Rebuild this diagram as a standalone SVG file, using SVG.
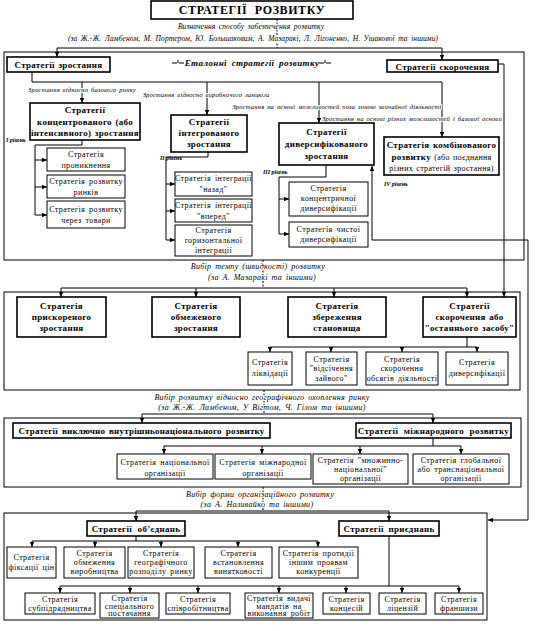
<svg xmlns="http://www.w3.org/2000/svg" width="553" height="631" viewBox="0 0 553 631">
<defs>
<marker id="ar" markerWidth="5" markerHeight="5" refX="5" refY="2.5" orient="auto" markerUnits="userSpaceOnUse"><path d="M0,0.3 L5,2.5 L0,4.7 z" fill="#000"/></marker>
</defs>
<style>
.pn{fill:none;stroke:#000;stroke-width:1}
.bx{fill:#fff;stroke:#000;stroke-width:1}
.bh{fill:#fff;stroke:#000;stroke-width:1.6}
.c{fill:none;stroke:#000;stroke-width:1}
.ca{fill:none;stroke:#000;stroke-width:1;marker-end:url(#ar)}
.d{fill:none;stroke:#000;stroke-width:1;stroke-dasharray:2 1.5}
text{font-family:"Liberation Serif","Times New Roman",serif;fill:#000}
.t{font-size:8px;letter-spacing:0.4px;word-spacing:1.5px;text-anchor:middle}
.h{font-size:9px;font-weight:bold;letter-spacing:0.3px;word-spacing:1px;text-anchor:middle}
.l{font-size:6.5px;font-style:italic;letter-spacing:0.2px;word-spacing:1px;text-anchor:middle;paint-order:stroke;stroke:#fff;stroke-width:2px;stroke-linejoin:round}
.s{font-size:8px;font-style:italic;letter-spacing:0.3px;word-spacing:1.5px;text-anchor:middle;paint-order:stroke;stroke:#fff;stroke-width:2px;stroke-linejoin:round}
.s2{font-size:7.5px;letter-spacing:0.1px}
.e{font-size:9px;font-style:italic;font-weight:bold;letter-spacing:0.4px;word-spacing:2px;text-anchor:middle}
.lv{font-size:6px;font-style:italic;font-weight:bold}
</style>
<rect width="553" height="631" fill="#fff"/>

<g id="panels">
<rect class="pn" x="4" y="52" width="520" height="208"/>
<rect class="pn" x="4" y="292" width="516" height="98"/>
<rect class="pn" x="4" y="418" width="517" height="69"/>
<rect class="pn" x="4" y="513" width="483" height="107"/>
</g>

<g id="connectors">
<path class="d" d="M277,19 V48"/>
<path class="c" d="M57,48 H442"/>
<path class="ca" d="M57,48 V57"/>
<path class="ca" d="M442,48 V60"/>
<path class="c" d="M32,72 V82 H442"/>
<path class="ca" d="M82,82 V103"/>
<path class="ca" d="M207,82 V115"/>
<path class="ca" d="M319,82 V123"/>
<path class="ca" d="M442,82 V137"/>
<path class="ca" d="M498,64 H504 V297"/>
<path class="c" d="M82,140 V145 H35 V215"/>
<path class="ca" d="M35,160 H47"/>
<path class="ca" d="M35,187 H47"/>
<path class="ca" d="M35,215 H47"/>
<path class="c" d="M208,152 V157 H166 V240"/>
<path class="ca" d="M166,184 H175"/>
<path class="ca" d="M166,211 H175"/>
<path class="ca" d="M166,240 H175"/>
<path class="c" d="M326,165 V177 H279 V234"/>
<path class="ca" d="M279,199 H289"/>
<path class="ca" d="M279,234 H289"/>
<path class="ca" d="M372,240 V166"/>
<path class="ca" d="M372,240 H528 V520 H488"/>
<path class="c" d="M172,63 H177 M179,63 H184 M178,63 V60 M319,63 H324 M326,63 H331 M325,63 V60"/>
<path class="d" d="M263,260 V288"/>
<path class="c" d="M61,288 H467"/>
<path class="ca" d="M61,288 V297"/>
<path class="ca" d="M196,288 V297"/>
<path class="ca" d="M334,288 V297"/>
<path class="ca" d="M467,288 V297"/>
<path class="c" d="M467,337 V347 M270,347 H477"/>
<path class="ca" d="M270,347 V352"/>
<path class="ca" d="M331,347 V352"/>
<path class="ca" d="M402,347 V352"/>
<path class="ca" d="M477,347 V352"/>
<path class="d" d="M264,390 V414"/>
<path class="c" d="M142,414 H433"/>
<path class="ca" d="M142,414 V423"/>
<path class="ca" d="M433,414 V423"/>
<path class="c" d="M433,438 V446 M164,446 H461"/>
<path class="ca" d="M164,446 V454"/>
<path class="ca" d="M262,446 V454"/>
<path class="ca" d="M360,446 V454"/>
<path class="ca" d="M461,446 V454"/>
<path class="d" d="M263,487 V511"/>
<path class="c" d="M136,511 H389"/>
<path class="ca" d="M136,511 V521"/>
<path class="ca" d="M389,511 V521"/>
<path class="c" d="M136,536 V541 M32,541 H318"/>
<path class="ca" d="M32,541 V547"/>
<path class="ca" d="M95,541 V547"/>
<path class="ca" d="M161,541 V547"/>
<path class="ca" d="M238,541 V547"/>
<path class="ca" d="M318,541 V547"/>
<path class="c" d="M389,536 V586 M60,586 H459"/>
<path class="ca" d="M60,586 V593"/>
<path class="ca" d="M130,586 V593"/>
<path class="ca" d="M198,586 V593"/>
<path class="ca" d="M279,586 V593"/>
<path class="ca" d="M346,586 V593"/>
<path class="ca" d="M402,586 V593"/>
<path class="ca" d="M459,586 V593"/>
</g>

<g id="labels">
<text class="s s2" x="251" y="29">Визначення способу забезпечення розвитку</text>
<text class="s s2" x="253" y="41">(за Ж.-Ж. Ламбеном, М. Портером, Ю. Большаковим, А. Мазаракі, Л. Лігоненко, Н. Ушакової та іншими)</text>
<text class="e" x="252" y="66">Еталонні стратегії розвитку</text>
<text class="l" x="82" y="92">Зростання відносно базового ринку</text>
<text class="l" x="206" y="97">Зростання відносно виробничого ланцюга</text>
<text class="l" x="337" y="109">Зростання на основі можливостей поза зоною звичайної діяльності</text>
<text class="l" x="412" y="121">Зростання на основі різних можливостей і базової основи</text>
<text class="lv" x="6" y="142">I рівень</text>
<text class="lv" x="160" y="160">II рівень</text>
<text class="lv" x="263" y="174">III рівень</text>
<text class="lv" x="384" y="186">IV рівень</text>
<text class="s" x="258" y="269">Вибір темпу (швидкості) розвитку</text>
<text class="s" x="262" y="280">(за А. Мазаракі та іншими)</text>
<text class="s" x="262" y="400">Вибір розвитку відносно географічного охоплення ринку</text>
<text class="s" x="262" y="410">(за Ж.-Ж. Ламбеном, У Вігтом, Ч. Гілом та іншими)</text>
<text class="s" x="260" y="497">Вибір форми організаційного розвитку</text>
<text class="s" x="257" y="507">(за А. Наливайко та іншими)</text>
</g>

<g id="title"><rect class="bh" x="151" y="1" width="202" height="18"/><text x="252" y="14" style="font-size:12px;font-weight:bold;letter-spacing:0.6px;word-spacing:4px" text-anchor="middle">СТРАТЕГІЇ РОЗВИТКУ</text></g>

<g id="n-zrost"><rect class="bh" x="7" y="57" width="103" height="15"/><text class="h" x="58.5" y="68">Стратегії зростання</text></g>
<g id="n-skor"><rect class="bh" x="387" y="60" width="111" height="12"/><text class="h" x="442.5" y="69.5">Стратегії скорочення</text></g>

<g id="n-konc"><rect class="bh" x="30" y="103" width="110" height="37"/><text class="h" x="85"><tspan x="85" y="113">Стратегії</tspan><tspan x="85" y="124.5">концентрованого (або</tspan><tspan x="85" y="136">інтенсивного) зростання</tspan></text></g>
<g id="n-pron"><rect class="bx" x="47" y="148" width="78" height="23"/><text class="t" x="86"><tspan x="86" y="157">Стратегія</tspan><tspan x="86" y="168">проникнення</tspan></text></g>
<g id="n-rynk"><rect class="bx" x="47" y="175" width="78" height="23"/><text class="t" x="86"><tspan x="86" y="184">Стратегія розвитку</tspan><tspan x="86" y="195">ринків</tspan></text></g>
<g id="n-tov"><rect class="bx" x="47" y="201" width="78" height="27"/><text class="t" x="86"><tspan x="86" y="212">Стратегія розвитку</tspan><tspan x="86" y="223">через товари</tspan></text></g>

<g id="n-integr"><rect class="bh" x="171" y="115" width="76" height="37"/><text class="h" x="209"><tspan x="209" y="125">Стратегії</tspan><tspan x="209" y="136">інтегрованого</tspan><tspan x="209" y="147">зростання</tspan></text></g>
<g id="n-nazad"><rect class="bx" x="175" y="172" width="77" height="24"/><text class="t" x="213.5"><tspan x="213.5" y="181">Стратегія інтеграції</tspan><tspan x="213.5" y="192">"назад"</tspan></text></g>
<g id="n-vpered"><rect class="bx" x="175" y="199" width="77" height="23"/><text class="t" x="213.5"><tspan x="213.5" y="208">Стратегія інтеграції</tspan><tspan x="213.5" y="219">"вперед"</tspan></text></g>
<g id="n-gor"><rect class="bx" x="175" y="225" width="77" height="31"/><text class="t" x="213.5"><tspan x="213.5" y="233">Стратегія</tspan><tspan x="213.5" y="243">горизонтальної</tspan><tspan x="213.5" y="253">інтеграції</tspan></text></g>

<g id="n-divers"><rect class="bh" x="279" y="123" width="95" height="42"/><text class="h" x="326.5"><tspan x="326.5" y="135">Стратегії</tspan><tspan x="326.5" y="147">диверсифікованого</tspan><tspan x="326.5" y="159">зростання</tspan></text></g>
<g id="n-koncdiv"><rect class="bx" x="289" y="182" width="79" height="34"/><text class="t" x="328.5"><tspan x="328.5" y="191">Стратегія</tspan><tspan x="328.5" y="201">концентричної</tspan><tspan x="328.5" y="211">диверсифікації</tspan></text></g>
<g id="n-chyst"><rect class="bx" x="289" y="222" width="79" height="25"/><text class="t" x="328.5"><tspan x="328.5" y="231.5">Стратегія чистої</tspan><tspan x="328.5" y="242">диверсифікації</tspan></text></g>

<g id="n-komb"><rect class="bh" x="384" y="137" width="115" height="38"/><text class="h" x="441.5"><tspan x="441.5" y="148">Стратегія комбінованого</tspan><tspan x="441.5" y="160">розвитку<tspan style="font-weight:normal;font-size:8px"> (або поєднання</tspan></tspan><tspan x="441.5" y="170.5" style="font-weight:normal;font-size:8px">різних стратегій зростання)</tspan></text></g>

<g id="n-prysk"><rect class="bh" x="17" y="297" width="89" height="40"/><text class="h" x="61.5"><tspan x="61.5" y="309">Стратегія</tspan><tspan x="61.5" y="320">прискореного</tspan><tspan x="61.5" y="331">зростання</tspan></text></g>
<g id="n-obm"><rect class="bh" x="152" y="297" width="88" height="40"/><text class="h" x="196"><tspan x="196" y="309">Стратегія</tspan><tspan x="196" y="320">обмеженого</tspan><tspan x="196" y="331">зростання</tspan></text></g>
<g id="n-zber"><rect class="bh" x="288" y="297" width="98" height="40"/><text class="h" x="337"><tspan x="337" y="309">Стратегія</tspan><tspan x="337" y="320">збереження</tspan><tspan x="337" y="331">становища</tspan></text></g>
<g id="n-ostan"><rect class="bh" x="423" y="297" width="93" height="40"/><text class="h" x="469.5"><tspan x="469.5" y="309">Стратегії</tspan><tspan x="469.5" y="320">скорочення або</tspan><tspan x="469.5" y="331">"останнього засобу"</tspan></text></g>

<g id="n-likv"><rect class="bx" x="248" y="352" width="44" height="33"/><text class="t" x="270"><tspan x="270" y="365">Стратегія</tspan><tspan x="270" y="376">ліквідації</tspan></text></g>
<g id="n-vids"><rect class="bx" x="306" y="352" width="51" height="33"/><text class="t" x="331.5"><tspan x="331.5" y="361.5">Стратегія</tspan><tspan x="331.5" y="371">"відсічення</tspan><tspan x="331.5" y="381">зайвого"</tspan></text></g>
<g id="n-obsyag"><rect class="bx" x="366" y="352" width="72" height="33"/><text class="t" x="402"><tspan x="402" y="361.5">Стратегія</tspan><tspan x="402" y="371">скорочення</tspan><tspan x="402" y="381">обсягів діяльності</tspan></text></g>
<g id="n-dyv2"><rect class="bx" x="446" y="352" width="62" height="33"/><text class="t" x="477"><tspan x="477" y="365">Стратегія</tspan><tspan x="477" y="376">диверсифікації</tspan></text></g>

<g id="n-vnutr"><rect class="bh" x="13" y="423" width="257" height="15"/><text class="h" x="141.5" y="434" style="word-spacing:1.5px;letter-spacing:0.2px">Стратегії виключно внутрішньонаціонального розвитку</text></g>
<g id="n-mizhn"><rect class="bh" x="356" y="423" width="155" height="15"/><text class="h" x="433.5" y="434" style="word-spacing:3px">Стратегії міжнародного розвитку</text></g>
<g id="n-nac"><rect class="bx" x="117" y="454" width="96" height="25"/><text class="t" x="165"><tspan x="165" y="465">Стратегія  національної</tspan><tspan x="165" y="475.5">організації</tspan></text></g>
<g id="n-mizhorg"><rect class="bx" x="215" y="454" width="96" height="25"/><text class="t" x="263"><tspan x="263" y="465">Стратегія  міжнародної</tspan><tspan x="263" y="475.5">організації</tspan></text></g>
<g id="n-mnozh"><rect class="bx" x="313" y="454" width="95" height="30"/><text class="t" x="360.5"><tspan x="360.5" y="462.5">Стратегія  "множинно-</tspan><tspan x="360.5" y="471.5">національної"</tspan><tspan x="360.5" y="481">організації</tspan></text></g>
<g id="n-glob"><rect class="bx" x="413" y="454" width="96" height="30"/><text class="t" x="461"><tspan x="461" y="462.5">Стратегія  глобальної</tspan><tspan x="461" y="471.5">або транснаціональної</tspan><tspan x="461" y="481">організації</tspan></text></g>

<g id="n-obyed"><rect class="bh" x="87" y="521" width="98" height="15"/><text class="h" x="136" y="532" style="word-spacing:3px">Стратегії об’єднань</text></g>
<g id="n-pryed"><rect class="bh" x="339" y="521" width="100" height="15"/><text class="h" x="389" y="532" style="word-spacing:2px">Стратегії приєднань</text></g>
<g id="n-fiks"><rect class="bx" x="7" y="547" width="49" height="31"/><text class="t" x="31.5"><tspan x="31.5" y="560">Стратегія</tspan><tspan x="31.5" y="570">фіксації цін</tspan></text></g>
<g id="n-obmvyr"><rect class="bx" x="64" y="547" width="61" height="31"/><text class="t" x="94.5"><tspan x="94.5" y="556">Стратегія</tspan><tspan x="94.5" y="565">обмеження</tspan><tspan x="94.5" y="574">виробництва</tspan></text></g>
<g id="n-geo"><rect class="bx" x="128" y="547" width="66" height="31"/><text class="t" x="161"><tspan x="161" y="556">Стратегія</tspan><tspan x="161" y="565">географічного</tspan><tspan x="161" y="574">розподілу ринку</tspan></text></g>
<g id="n-vyn"><rect class="bx" x="205" y="547" width="67" height="31"/><text class="t" x="238.5"><tspan x="238.5" y="556">Стратегія</tspan><tspan x="238.5" y="565">встановлення</tspan><tspan x="238.5" y="574">винятковості</tspan></text></g>
<g id="n-protyd"><rect class="bx" x="279" y="547" width="79" height="31"/><text class="t" x="318.5"><tspan x="318.5" y="556">Стратегія протидії</tspan><tspan x="318.5" y="565">іншим проявам</tspan><tspan x="318.5" y="574">конкуренції</tspan></text></g>

<g id="n-subp"><rect class="bx" x="25" y="593" width="70" height="21"/><text class="t" x="60"><tspan x="60" y="602">Стратегія</tspan><tspan x="60" y="611">субпідрядництва</tspan></text></g>
<g id="n-spec"><rect class="bx" x="100" y="593" width="59" height="25"/><text class="t" x="129.5"><tspan x="129.5" y="600.5">Стратегія</tspan><tspan x="129.5" y="608.5">спеціального</tspan><tspan x="129.5" y="616">постачання</tspan></text></g>
<g id="n-spivr"><rect class="bx" x="166" y="593" width="64" height="21"/><text class="t" x="198"><tspan x="198" y="602">Стратегія</tspan><tspan x="198" y="611">співробітництва</tspan></text></g>
<g id="n-mand"><rect class="bx" x="245" y="593" width="68" height="25"/><text class="t" x="279"><tspan x="279" y="600.5">Стратегія видачі</tspan><tspan x="279" y="608.5">мандатів на</tspan><tspan x="279" y="616">виконання робіт</tspan></text></g>
<g id="n-konces"><rect class="bx" x="323" y="593" width="47" height="21"/><text class="t" x="346.5"><tspan x="346.5" y="602">Стратегія</tspan><tspan x="346.5" y="611">концесій</tspan></text></g>
<g id="n-lic"><rect class="bx" x="379" y="593" width="47" height="21"/><text class="t" x="402.5"><tspan x="402.5" y="602">Стратегія</tspan><tspan x="402.5" y="611">ліцензій</tspan></text></g>
<g id="n-fran"><rect class="bx" x="435" y="593" width="48" height="21"/><text class="t" x="459"><tspan x="459" y="602">Стратегія</tspan><tspan x="459" y="611">франшизи</tspan></text></g>
</svg>
